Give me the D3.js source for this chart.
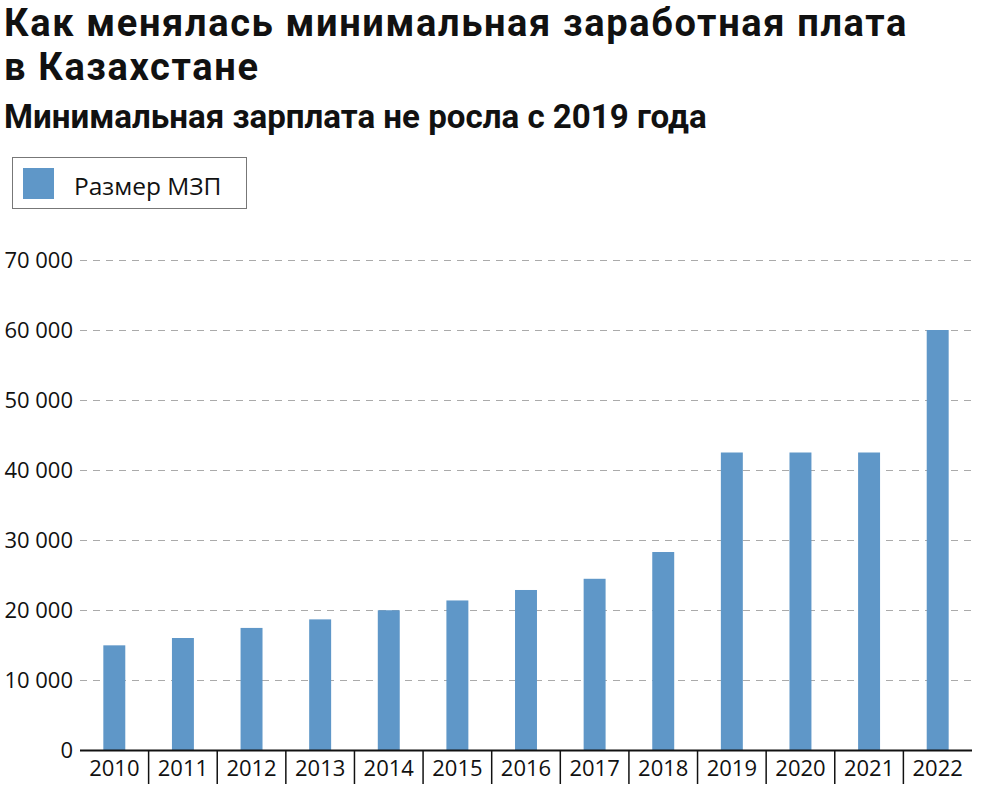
<!DOCTYPE html>
<html lang="ru">
<head>
  <meta charset="UTF-8">
  <title>Минимальная заработная плата в Казахстане</title>
  <script src="https://d3js.org/d3.v7.min.js"></script>
  <style>
    body, html {
      margin: 0;
      padding: 0;
      background: #fff;
    }
    svg {
      display: block;
      font-family: "Open Sans", "Noto Sans", sans-serif;
    }
    .title, .subtitle {
      font-family: Roboto, "Open Sans", sans-serif;
      font-weight: 700;
      fill: #111;
    }
    .title {
      font-size: 38px;
    }
    .legend text {
      font-size: 24.5px;
      fill: #111;
    }
    .tick text {
      font-family: "Open Sans", "Noto Sans", sans-serif;
      font-size: 22px;
      fill: #111;
    }
  </style>
</head>
<body>
  <svg id="chart" width="1000" height="810"></svg>

  <script>
    // Data
    const years = ["2010", "2011", "2012", "2013", "2014", "2015", "2016",
                   "2017", "2018", "2019", "2020", "2021", "2022"];
    const wage = [14952, 15999, 17439, 18660, 19966, 21364, 22859,
                  24459, 28284, 42500, 42500, 42500, 60000];
    const yTicks = [0, 10000, 20000, 30000, 40000, 50000, 60000, 70000];
    const seriesName = "Размер МЗП";

    const barColor = "#5f97c8";

    const svg = d3.select("#chart");
    const margin = { left: 80, right: 28, top: 260, bottom: 60 };
    const width = 1000, height = 810;

    // spread letters so a text spans the wanted width
    function spreadText(sel, wanted) {
      const w = sel.node().getComputedTextLength();
      const n = sel.text().length;
      const ls = (wanted - w) / n;
      sel.style("letter-spacing", ls + "px");
      return ls;
    }
    // size a text so it spans the wanted width
    function fitText(sel, wanted, startSize) {
      sel.style("font-size", startSize + "px");
      const w = sel.node().getComputedTextLength();
      sel.style("font-size", (startSize * wanted / w) + "px");
    }

    // Titles
    const t1 = svg.append("text").attr("class", "title")
      .attr("x", 4).attr("y", 36)
      .text("Как менялась минимальная заработная плата");
    const ls = spreadText(t1, 904);
    svg.append("text").attr("class", "title")
      .attr("x", 4).attr("y", 80)
      .style("letter-spacing", ls + "px")
      .text("в Казахстане");
    const sub = svg.append("text").attr("class", "subtitle")
      .attr("x", 4).attr("y", 128)
      .text("Минимальная зарплата не росла с 2019 года");
    fitText(sub, 703, 30);

    // Legend
    const legend = svg.append("g").attr("class", "legend");
    legend.append("rect")
      .attr("x", 12.5).attr("y", 157.5)
      .attr("width", 234).attr("height", 51)
      .attr("fill", "#fff").attr("stroke", "#777").attr("stroke-width", 1);
    legend.append("rect")
      .attr("x", 23).attr("y", 168)
      .attr("width", 31).attr("height", 31)
      .attr("fill", barColor);
    legend.append("text")
      .attr("x", 74).attr("y", 195)
      .text(seriesName);

    // Scales
    const x = d3.scaleBand()
      .domain(years)
      .range([margin.left, width - margin.right])
      .paddingInner(0.68)
      .paddingOuter(0.34);

    const y = d3.scaleLinear()
      .domain([0, 70000])
      .range([height - margin.bottom, margin.top]);

    const fmt = v => d3.format(",")(v).replace(/,/g, " ");

    // Grid + y labels
    const yAxis = svg.append("g")
      .attr("transform", `translate(${margin.left},0)`)
      .call(d3.axisLeft(y).tickValues(yTicks).tickFormat(fmt)
        .tickSize(-(width - margin.left - margin.right)).tickPadding(7));
    yAxis.select(".domain").remove();
    yAxis.selectAll(".tick line")
      .attr("stroke", "#aaa")
      .attr("stroke-dasharray", "7,6")
      .filter(d => d === 0).remove();

    // Bars
    svg.append("g").selectAll("rect")
      .data(years)
      .join("rect")
      .attr("x", d => x(d))
      .attr("width", x.bandwidth())
      .attr("y", (d, i) => y(wage[i]))
      .attr("height", (d, i) => y(0) - y(wage[i]))
      .attr("fill", barColor);

    // X axis
    const step = x.step();
    const xAxis = svg.append("g")
      .attr("transform", `translate(0,${y(0)})`)
      .call(d3.axisBottom(x).tickSize(0).tickPadding(10));
    xAxis.select(".domain")
      .attr("d", `M${margin.left},0.5H${width - margin.right}`)
      .attr("stroke", "#111").attr("stroke-width", 2);

    // Separators between categories
    xAxis.append("g").selectAll("line")
      .data(years.slice(1))
      .join("line")
      .attr("x1", d => x(d) + x.bandwidth() / 2 - step / 2)
      .attr("x2", d => x(d) + x.bandwidth() / 2 - step / 2)
      .attr("y1", 0).attr("y2", 34)
      .attr("stroke", "#111").attr("stroke-width", 1.5);
  </script>
</body>
</html>
